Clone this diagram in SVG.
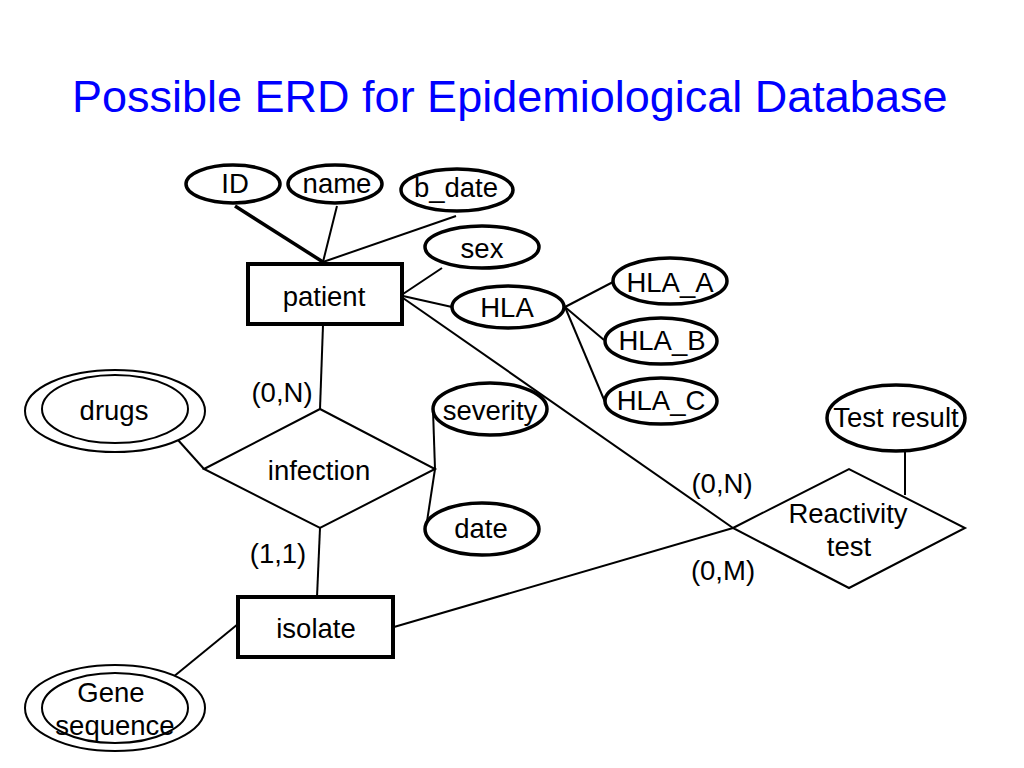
<svg xmlns="http://www.w3.org/2000/svg" width="1024" height="768" viewBox="0 0 1024 768">
<style>
text{font-family:"Liberation Sans",Arial,sans-serif;font-size:27.5px;fill:#000;text-anchor:middle}
.title{font-size:45px;fill:#0000ff;text-anchor:start}
.attr{fill:#fff;stroke:#000;stroke-width:3.5}
.multi{fill:#fff;stroke:#000;stroke-width:2}
.ent{fill:#fff;stroke:#000;stroke-width:4}
.rel{fill:#fff;stroke:#000;stroke-width:2}
.ln{stroke:#000;stroke-width:2;fill:none}
.thick{stroke-width:3.5}
</style>
<rect width="1024" height="768" fill="#fff"/>
<text class="title" x="72" y="112">Possible ERD for Epidemiological Database</text>
<g id="connectors">
<line class="ln thick" x1="235" y1="206" x2="323" y2="262"/>
<line class="ln" x1="337" y1="206" x2="323" y2="262"/>
<line class="ln" x1="456" y1="216" x2="323" y2="262"/>
<line class="ln" x1="442" y1="268" x2="403" y2="294"/>
<line class="ln" x1="403" y1="296" x2="452" y2="307"/>
<line class="ln" x1="403" y1="298" x2="733" y2="528"/>
<line class="ln" x1="565" y1="307" x2="613" y2="282"/>
<line class="ln" x1="565" y1="307" x2="604" y2="340"/>
<line class="ln" x1="565" y1="307" x2="605" y2="402"/>
<line class="ln" x1="323" y1="325" x2="320" y2="409"/>
<line class="ln" x1="320" y1="528" x2="317" y2="597"/>
<line class="ln" x1="178" y1="440" x2="204" y2="469"/>
<line class="ln" x1="435" y1="469" x2="433" y2="410"/>
<line class="ln" x1="435" y1="469" x2="426" y2="528"/>
<line class="ln" x1="394" y1="627" x2="733" y2="528"/>
<line class="ln" x1="167" y1="682" x2="238" y2="624"/>
<line class="ln" x1="905" y1="452" x2="905" y2="495"/>
<text x="282" y="402">(0,N)</text>
<text x="278" y="563">(1,1)</text>
<text x="722" y="493">(0,N)</text>
<text x="723" y="580">(0,M)</text>
</g>
<g id="patient"><rect class="ent" x="248" y="264" width="154" height="60"/><text x="324" y="306">patient</text></g>
<g id="id"><ellipse class="attr" cx="233" cy="184" rx="47" ry="19"/><text x="235" y="193">ID</text></g>
<g id="name"><ellipse class="attr" cx="335" cy="184" rx="47" ry="19"/><text x="337" y="193">name</text></g>
<g id="b_date"><ellipse class="attr" cx="457" cy="190" rx="56" ry="21"/><text x="456" y="197">b_date</text></g>
<g id="sex"><ellipse class="attr" cx="482" cy="247" rx="57" ry="21"/><text x="482" y="258">sex</text></g>
<g id="hla"><ellipse class="attr" cx="508" cy="307" rx="56" ry="21"/><text x="507" y="317">HLA</text></g>
<g id="hla_a"><ellipse class="attr" cx="670" cy="281" rx="57" ry="23"/><text x="670" y="292">HLA_A</text></g>
<g id="hla_b"><ellipse class="attr" cx="661" cy="341" rx="56" ry="23"/><text x="662" y="350">HLA_B</text></g>
<g id="hla_c"><ellipse class="attr" cx="661" cy="401" rx="56" ry="23"/><text x="661" y="410">HLA_C</text></g>
<g id="infection"><polygon class="rel" points="204,469 320,409 435,469 320,528"/><text x="319" y="480">infection</text></g>
<g id="drugs"><ellipse class="multi" cx="115" cy="411" rx="90" ry="41"/><ellipse class="multi" cx="115" cy="409" rx="73" ry="34"/><text x="114" y="420">drugs</text></g>
<g id="severity"><ellipse class="attr" cx="490" cy="409" rx="57" ry="26"/><text x="490" y="420">severity</text></g>
<g id="date"><ellipse class="attr" cx="482" cy="529" rx="57" ry="26"/><text x="481" y="538">date</text></g>
<g id="isolate"><rect class="ent" x="238" y="597" width="155" height="60"/><text x="316" y="638">isolate</text></g>
<g id="gene_sequence"><ellipse class="multi" cx="115" cy="708" rx="90" ry="43"/><ellipse class="multi" cx="115" cy="708" rx="73" ry="35"/><text x="111" y="702">Gene</text><text x="115" y="735">sequence</text></g>
<g id="reactivity_test"><polygon class="rel" points="733,528 849,469 965,528 849,588"/><text x="848" y="523">Reactivity</text><text x="849" y="556">test</text></g>
<g id="test_result"><ellipse class="attr" cx="896" cy="418" rx="69" ry="33"/><text x="896" y="427">Test result</text></g>
</svg>
